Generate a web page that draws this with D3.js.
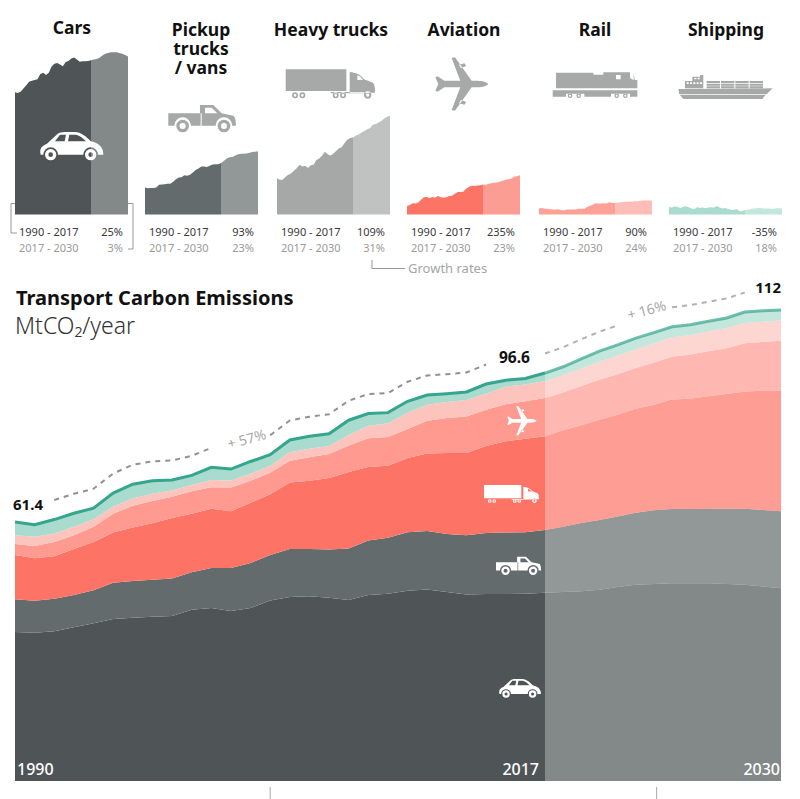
<!DOCTYPE html>
<html>
<head>
<meta charset="utf-8">
<script src="https://cdn.jsdelivr.net/npm/d3@7"></script>
<style>
  html, body { margin: 0; padding: 0; background: #fff; }
  svg { display: block; }
  text { font-family: "Noto Sans", sans-serif; }
</style>
</head>
<body>
<div id="chart"></div>
<script>
// values in MtCO2/year
var years = d3.range(1990, 2031);
var cars = [35.4,35.2,35.6,36.5,37.5,38.5,38.8,39.0,39.2,40.7,41.1,40.4,41.1,42.9,43.7,43.9,43.5,43.0,44.2,44.5,45.2,45.5,44.9,44.3,44.4,44.4,44.5,44.7,44.9,45.1,45.4,46.1,46.6,46.8,47.0,47.0,47.0,46.8,46.6,46.2,45.8];
var pickups = [7.8,7.6,7.7,7.7,7.8,8.6,8.7,8.8,8.9,8.9,9.5,10.2,10.7,10.8,11.4,11.2,11.5,12.2,12.9,13.3,13.9,13.9,13.8,14.1,14.5,14.6,14.6,14.9,15.5,16.2,16.6,16.7,17.1,17.5,17.6,17.6,17.7,17.9,18.1,18.2,18.3];
var trucks = [10.5,10.1,10.1,10.9,11.5,11.9,12.7,13.4,14.4,13.9,14.1,13.5,14.3,14.4,15.8,16.2,17.0,18.2,17.5,17.1,17.6,18.4,19.2,19.5,20.7,21.7,22.2,22.3,22.9,23.2,23.8,24.2,24.7,25.1,26.0,26.2,26.7,27.2,27.8,28.3,28.6];
var aviation = [2.6,2.9,3.4,3.3,3.6,4.5,5.2,5.3,5.0,5.3,5.1,5.6,5.2,5.1,5.2,5.6,5.7,6.3,6.8,6.8,6.9,7.8,8.3,8.7,8.6,8.8,8.9,9.1,9.0,9.3,9.5,9.6,9.7,10.0,10.2,10.5,10.7,10.9,11.5,11.6,11.9];
var rail = [2.1,2.2,2.0,2.0,1.8,1.7,1.7,1.8,1.5,1.5,1.7,1.7,1.7,1.7,2.0,2.0,1.9,2.5,3.0,3.3,3.9,3.8,3.8,3.9,3.8,4.2,4.0,4.0,4.1,4.2,4.3,4.4,4.4,4.5,4.6,4.6,4.7,4.8,4.8,4.8,4.8];
var shipping = [3.1,2.9,3.3,3.2,2.6,3.2,3.4,3.0,2.5,2.3,3.0,2.7,2.9,2.6,2.9,3.0,2.9,3.5,2.9,2.5,2.7,2.3,2.0,1.9,2.3,1.5,1.4,1.9,2.0,2.3,2.5,2.6,2.7,2.6,2.5,2.5,2.4,2.4,2.6,2.6,2.5];

var keys = ['cars', 'pickups', 'trucks', 'aviation', 'rail', 'shipping'];
var sectorTitles = [['Cars'], ['Pickup', 'trucks', '/ vans'], ['Heavy trucks'], ['Aviation'], ['Rail'], ['Shipping']];
var rates1990 = ['25%', '93%', '109%', '235%', '90%', '-35%'];
var rates2017 = ['3%', '23%', '31%', '23%', '24%', '18%'];
var periodLabels = ['1990 - 2017', '2017 - 2030'];
var yearLabels = [1990, 2017, 2030];
var totalLabels = ['61.4', '96.6', '112'];
var growthLabels = ['+ 57%', '+ 16%'];
var gapYears = [1990, 1991, 2001, 2002, 2015, 2016, 2022, 2023, 2029, 2030];
var tickYears = [2003, 2023.15];

var width = 800, height = 799;
var mainColors = ['#4f5557', '#646b6c', '#fd7365', '#fe9a90', '#fdc4bd', '#a9dbcf'];
var smallColors = ['#4f5557', '#646b6c', '#a5a8a7', '#fb7466', '#fda198', '#a9dbcf'];
var futureOpacity = 0.7;

var svg = d3.select('#chart').append('svg').attr('width', width).attr('height', height);

var rows = years.map((year, i) => ({
    year: year, cars: cars[i], pickups: pickups[i], trucks: trucks[i],
    aviation: aviation[i], rail: rail[i], shipping: shipping[i]
}));
var isPast = d => d.data ? d.data.year <= 2017 : d.year <= 2017;
var isFuture = d => d.data ? d.data.year >= 2017 : d.year >= 2017;

// ---- icons, drawn in the pixel box of the zoomed picture then scaled down
var ring = (cx, cy, r, r2) =>
    'M' + (cx - r) + ',' + cy + 'a' + r + ',' + r + ' 0 1,0 ' + (2 * r) + ',0a' + r + ',' + r + ' 0 1,0 ' + (-2 * r) + ',0Z' +
    'M' + (cx - r2) + ',' + cy + 'a' + r2 + ',' + r2 + ' 0 1,0 ' + (2 * r2) + ',0a' + r2 + ',' + r2 + ' 0 1,0 ' + (-2 * r2) + ',0Z';
var box = (x, y, w, h) => 'M' + x + ',' + y + 'h' + w + 'v' + h + 'h' + (-w) + 'Z';

var icons = {
    car: 'M2,68C-2,50 4,42 20,36L50,8C55,3 62,0 75,0L105,0C122,0 140,14 152,28C172,32 190,42 190,68L174,68A22,22 0 0 0 130,68L54,68A22,22 0 0 0 10,68Z' +
        'M60,8L78,8L74,28L45,28ZM88,8L108,8C120,10 130,20 138,28L84,28Z' + ring(32, 68, 17, 7) + ring(152, 68, 17, 7),
    pickup: 'M0,25L95,25L95,0L135,0L160,25L195,32C200,35 203,45 203,62L192,62A25,25 0 0 0 142,62L68,62A25,25 0 0 0 18,62L0,62Z' +
        'M110,8L130,8L147,25L110,25ZM97,25L100,25L100,62L97,62Z' + ring(43, 63, 19, 9) + ring(167, 63, 19, 9),
    truck: box(0, 0, 182, 65) + 'M192,8C210,10 225,15 235,30L262,40C268,48 268,60 268,70L192,70Z' +
        'M215,18C222,20 228,25 232,32L215,32Z' + box(135, 68, 100, 4) +
        ring(28, 78, 9, 4) + ring(50, 78, 9, 4) + ring(150, 78, 9, 4) + ring(172, 78, 9, 4) + ring(246, 77, 11, 5),
    plane: 'M162,80C155,72 140,70 125,70L112,70L62,0L52,2L78,70L30,70L10,57L3,60L12,80L3,100L10,103L30,90L78,90L52,158L62,160L112,90L125,90C140,90 155,88 162,80Z' +
        'M74,22L90,18L96,26L80,32ZM74,138L90,142L96,134L80,128Z',
    loco: 'M10,3L122,3L122,9L152,9L152,2L232,2L232,20L243,25L243,2L246,25L254,25L254,50L10,50Z' + box(190, 10, 14, 13) +
        'M0,56L254,56L254,75L232,75L232,66L175,66L175,75L95,75L95,66L40,66L40,75L0,75Z' +
        ring(52, 72, 7, 3) + ring(78, 72, 7, 3) + ring(192, 72, 7, 3) + ring(218, 72, 7, 3),
    ship: 'M0,42L283,40L265,58L3,58ZM5,60L262,60L252,72L15,72Z' +
        'M20,18L42,18L42,5L65,5L65,0L75,0L75,40L20,40Z' +
        box(25, 22, 6, 5) + box(35, 22, 6, 5) + box(45, 22, 6, 5) + box(55, 22, 6, 5) + box(65, 22, 6, 5) + box(48, 8, 6, 5) + box(58, 8, 6, 5) +
        [85, 128, 171, 214].map(x => box(x, 18, 40, 6) + box(x, 26, 40, 6) + box(x, 34, 40, 6)).join('')
};

const drawIcon = (name, x, y, k, color) => {
    svg.append('path')
        .attr('d', icons[name])
        .attr('fill-rule', 'evenodd')
        .attr('fill', color)
        .attr('transform', 'translate(' + x + ',' + y + ') scale(' + k + ')');
};

// ---- small multiples
var smallLeft = [15, 145, 277, 407, 539, 669];
var smallPx = [3.45, 3.45, 3.45, 3.3, 2.9, 2.4]; // px per MtCO2, thin panels are drawn a bit flatter

keys.forEach((key, i) => {
    var smallX = d3.scaleLinear().domain([1990, 2017, 2030]).range([smallLeft[i], smallLeft[i] + 76, smallLeft[i] + 113]);
    var smallY = d3.scaleLinear().domain([0, 50]).range([214.5, 214.5 - 50 * smallPx[i]]);
    var area = d3.area().x(d => smallX(d.year)).y0(smallY(0)).y1(d => smallY(d[key]));
    svg.append('path').datum(rows.filter(isPast)).attr('d', area).attr('fill', smallColors[i]);
    svg.append('path').datum(rows.filter(isFuture)).attr('d', area).attr('fill', smallColors[i]).attr('fill-opacity', futureOpacity);
});

var titleCenter = [72, 201, 331, 464, 595, 726];
var titleBase = [34, 36, 36, 36, 36, 36];
sectorTitles.forEach((lines, i) => {
    svg.append('text')
        .attr('text-anchor', 'middle')
        .attr('font-size', 17.5).attr('font-weight', 700).attr('fill', '#111')
        .selectAll('tspan').data(lines).enter().append('tspan')
        .attr('x', titleCenter[i])
        .attr('y', (d, j) => titleBase[i] + j * 18.8)
        .text(d => d);
});

var labelLeft = [19, 149, 281, 411, 543, 673];
var rateRight = [123, 254, 385, 515, 647, 777];
keys.forEach((key, i) => {
    [rates1990, rates2017].forEach((rates, r) => {
        var color = r === 0 ? '#3a3a3a' : '#9a9a9a';
        var base = r === 0 ? 236 : 252;
        svg.append('text').text(periodLabels[r]).attr('x', labelLeft[i]).attr('y', base)
            .attr('font-size', 11).attr('fill', color);
        svg.append('text').text(rates[i]).attr('x', rateRight[i]).attr('y', base)
            .attr('text-anchor', 'end').attr('font-size', 11).attr('fill', color);
    });
});

// brackets around the growth rates
var bracket = d3.line();
[[[15, 203.5], [11, 203.5], [11, 233], [17, 233]],
 [[128, 203.5], [133, 203.5], [133, 249], [128, 249]],
 [[372, 260], [372, 268.5], [405, 268.5]]].forEach(pts => {
    svg.append('path').attr('d', bracket(pts)).attr('fill', 'none').attr('stroke', '#999').attr('stroke-width', 1);
});
svg.append('text').text('Growth rates').attr('x', 408).attr('y', 273).attr('font-size', 13).attr('fill', '#a5a5a5');

drawIcon('car', 40, 132, 1 / 3, '#fff');
drawIcon('pickup', 168.3, 105, 1 / 3, '#a6a9a8');
drawIcon('truck', 285.7, 69.3, 1 / 3, '#a6a9a8');
drawIcon('plane', 434.3, 57.3, 1 / 3, '#a6a9a8');
drawIcon('loco', 552.7, 71.7, 1 / 3, '#a6a9a8');
drawIcon('ship', 678.3, 75, 1 / 3, '#a6a9a8');

// ---- main stacked chart
svg.append('text').text('Transport Carbon Emissions').attr('x', 16).attr('y', 305)
    .attr('font-size', 20).attr('font-weight', 700).attr('fill', '#111');
svg.append('text').text('MtCO₂/year').attr('x', 15).attr('y', 334)
    .attr('font-size', 23).attr('font-weight', 300).attr('fill', '#333');

var x = d3.scaleLinear().domain([1990, 2017, 2030]).range([15, 545, 781]);
var y = d3.scaleLinear().domain([0, 112]).range([781, 309.5]);
var stacked = d3.stack().keys(keys)(rows);

var area = d3.area().x(d => x(d.data.year)).y0(d => y(d[0])).y1(d => y(d[1]));
stacked.forEach((layer, i) => {
    svg.append('path').datum(layer.filter(isPast)).attr('d', area).attr('fill', mainColors[i]);
    svg.append('path').datum(layer.filter(isFuture)).attr('d', area).attr('fill', mainColors[i]).attr('fill-opacity', futureOpacity);
});

var totals = stacked[stacked.length - 1];
var topLine = d3.line().x(d => x(d.data.year)).y(d => y(d[1]));
svg.append('path').datum(totals.filter(isPast)).attr('d', topLine)
    .attr('fill', 'none').attr('stroke', '#35a58d').attr('stroke-width', 3);
svg.append('path').datum(totals.filter(isFuture)).attr('d', topLine)
    .attr('fill', 'none').attr('stroke', '#35a58d').attr('stroke-opacity', futureOpacity).attr('stroke-width', 3);

// dashed guide sits a fixed distance above the total
var dashed = d3.line()
    .defined(d => gapYears.indexOf(d.data.year) < 0)
    .x(d => x(d.data.year))
    .y(d => y(d[1]) - 19.5);
svg.append('path').datum(totals.filter(isPast)).attr('d', dashed)
    .attr('fill', 'none').attr('stroke', '#8f9292').attr('stroke-width', 2).attr('stroke-dasharray', '5,5');
svg.append('path').datum(totals.filter(isFuture)).attr('d', dashed)
    .attr('fill', 'none').attr('stroke', '#b0b2b2').attr('stroke-width', 2).attr('stroke-dasharray', '5,5');

svg.append('text').text(totalLabels[0]).attr('x', 13).attr('y', 510).attr('font-size', 15).attr('font-weight', 700).attr('fill', '#111');
svg.append('text').text(totalLabels[1]).attr('x', 499).attr('y', 363).attr('font-size', 15.5).attr('font-weight', 700).attr('fill', '#111');
svg.append('text').text(totalLabels[2]).attr('x', 781).attr('y', 293).attr('text-anchor', 'end').attr('font-size', 15).attr('font-weight', 700).attr('fill', '#111');

svg.append('text').text(growthLabels[0]).attr('transform', 'translate(229,449) rotate(-15)').attr('font-size', 14).attr('fill', '#a8a8a8');
svg.append('text').text(growthLabels[1]).attr('transform', 'translate(629,320) rotate(-15)').attr('font-size', 14).attr('fill', '#a8a8a8');

svg.append('text').text(yearLabels[0]).attr('x', 17).attr('y', 775).attr('font-size', 16).attr('font-weight', 500).attr('fill', '#fff');
svg.append('text').text(yearLabels[1]).attr('x', 539).attr('y', 775).attr('text-anchor', 'end').attr('font-size', 16).attr('font-weight', 500).attr('fill', '#fff');
svg.append('text').text(yearLabels[2]).attr('x', 780).attr('y', 775).attr('text-anchor', 'end').attr('font-size', 16).attr('font-weight', 500).attr('fill', '#fff');

drawIcon('plane', 506.7, 406, 0.185, '#fff');
drawIcon('truck', 484, 485, 0.205, '#fff');
drawIcon('pickup', 496, 556.7, 0.222, '#fff');
drawIcon('car', 499, 679, 0.221, '#fff');

// cut-off ticks at the bottom edge
svg.selectAll('line.tick').data(tickYears).enter().append('line')
    .attr('class', 'tick')
    .attr('x1', d => x(d)).attr('x2', d => x(d))
    .attr('y1', 787).attr('y2', height)
    .attr('stroke', '#aaa').attr('stroke-width', 1);
</script>
</body>
</html>
